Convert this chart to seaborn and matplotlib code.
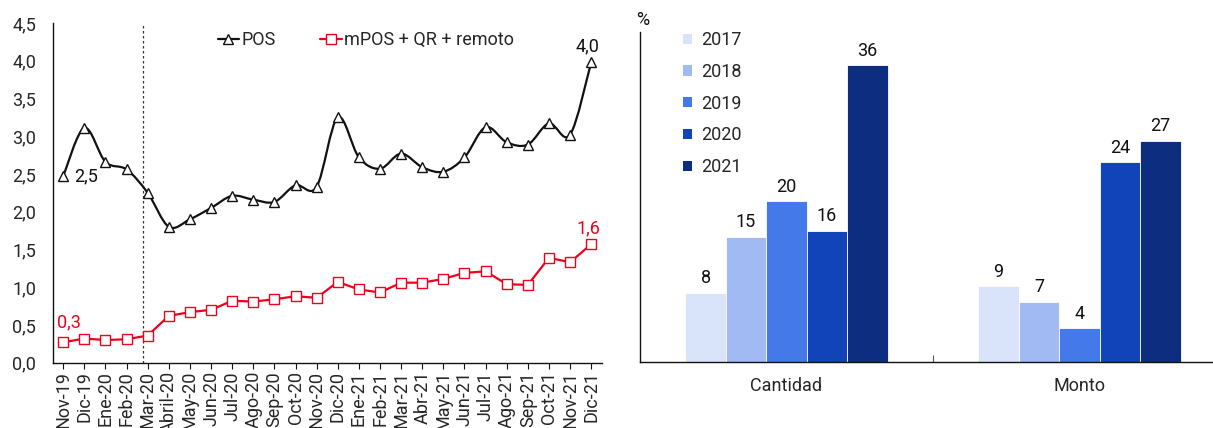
import numpy as np
import pandas as pd
import matplotlib
matplotlib.use("Agg")
import matplotlib.pyplot as plt
from matplotlib.path import Path
from matplotlib.patches import PathPatch
from matplotlib.ticker import FixedLocator, FuncFormatter
import seaborn as sns

# --- data (left panel) ---
months = ["Nov-19", "Dic-19", "Ene-20", "Feb-20", "Mar-20", "Abril-20", "May-20", "Jun-20",
          "Jul-20", "Ago-20", "Sep-20", "Oct-20", "Nov-20", "Dic-20", "Ene-21", "Feb-21",
          "Mar-21", "Abr-21", "May-21", "Jun-21", "Jul-21", "Ago-21", "Sep-21", "Oct-21",
          "Nov-21", "Dic-21"]
pos = [2.47, 3.11, 2.66, 2.56, 2.25, 1.80, 1.90, 2.05, 2.21, 2.16, 2.13, 2.35, 2.33,
       3.25, 2.72, 2.57, 2.77, 2.59, 2.53, 2.72, 3.12, 2.92, 2.89, 3.17, 3.02, 3.98]
mpos = [0.27, 0.32, 0.30, 0.31, 0.36, 0.62, 0.67, 0.70, 0.82, 0.81, 0.84, 0.88, 0.86,
        1.07, 0.97, 0.93, 1.06, 1.06, 1.11, 1.19, 1.21, 1.04, 1.03, 1.39, 1.33, 1.57]

# --- data (right panel) ---
groups = ["Cantidad", "Monto"]
years = ["2017", "2018", "2019", "2020", "2021"]
cantidad = [8.4, 15.2, 19.5, 15.9, 36.0]
monto = [9.2, 7.3, 4.1, 24.2, 26.8]
year_colors = ["#D9E3F9", "#A2BAF4", "#4479EA", "#1244B9", "#0C2D80"]

RED = "#F0001C"
BLACK = "#111111"
FS = 13

sns.set_theme(style="white")
plt.rcParams["font.family"] = ["Roboto", "DejaVu Sans"]
plt.rcParams["font.size"] = FS


def comma(v, _=None):
    return f"{v:.1f}".replace(".", ",")


def smooth_path(xs, ys):
    # bezier curve through the points, like Excel's "smoothed line"
    pts = np.column_stack([xs, ys]).astype(float)
    verts = [pts[0]]
    codes = [Path.MOVETO]
    n = len(pts)
    for i in range(n - 1):
        p0 = pts[i - 1] if i > 0 else pts[i]
        p1, p2 = pts[i], pts[i + 1]
        p3 = pts[i + 2] if i + 2 < n else p2
        verts += [p1 + (p2 - p0) / 6, p2 - (p3 - p1) / 6, p2]
        codes += [Path.CURVE4] * 3
    return Path(verts, codes)


fig = plt.figure(figsize=(12.13, 4.28), dpi=100)
ax1 = fig.add_axes([0.0434, 0.1526, 0.4527, 0.7936])
ax2 = fig.add_axes([0.5276, 0.154, 0.4724, 0.771])

# ---------- left: lines ----------
df = pd.DataFrame({"x": np.arange(len(months)), "month": months, "POS": pos, "mPOS": mpos})

ax1.add_patch(PathPatch(smooth_path(df["x"], df["POS"]), facecolor="none",
                        edgecolor=BLACK, lw=1.6, zorder=3))
sns.lineplot(data=df, x="x", y="POS", ax=ax1, linestyle="", marker="^", markersize=7.5,
             markerfacecolor="white", markeredgecolor=BLACK, markeredgewidth=1, zorder=4)
sns.lineplot(data=df, x="x", y="mPOS", ax=ax1, color=RED, lw=1.6, marker="s", markersize=7,
             markerfacecolor="white", markeredgecolor=RED, markeredgewidth=1, zorder=4)

ax1.axvline(3.8, color="#333333", lw=0.9, ls=(0, (2, 2)), zorder=2)

ax1.set_xlim(-0.5, len(months) - 0.5)
ax1.set_ylim(0, 4.5)
ax1.yaxis.set_major_locator(FixedLocator(np.arange(0, 4.51, 0.5)))
ax1.yaxis.set_major_formatter(FuncFormatter(comma))
ax1.set_xticks(df["x"])
ax1.set_xticklabels(months, rotation=90)
ax1.set_xlabel("")
ax1.set_ylabel("")
ax1.tick_params(axis="x", bottom=True, length=4, width=0.8, color=BLACK, pad=2, labelsize=FS)
ax1.tick_params(axis="y", left=False, pad=6, labelsize=FS)
for side in ["top", "right"]:
    ax1.spines[side].set_visible(False)
for side in ["left", "bottom"]:
    ax1.spines[side].set_color(BLACK)
    ax1.spines[side].set_linewidth(1)

h_pos = plt.Line2D([], [], color=BLACK, lw=1.6, marker="^", markersize=7,
                   markerfacecolor="white", markeredgecolor=BLACK)
h_mpos = plt.Line2D([], [], color=RED, lw=1.6, marker="s", markersize=7,
                    markerfacecolor="white", markeredgecolor=RED)
ax1.legend([h_pos, h_mpos], ["POS", "mPOS + QR + remoto"], ncol=2, frameon=False,
           loc="center", bbox_to_anchor=(0.57, 0.95), handlelength=1.2, handletextpad=0.1,
           columnspacing=2.5, fontsize=FS)

ax1.annotate(comma(pos[0]), (0, pos[0]), xytext=(8, 0), textcoords="offset points",
             ha="left", va="center", color=BLACK, fontsize=FS)
ax1.annotate(comma(mpos[0]), (0, mpos[0]), xytext=(4, 8), textcoords="offset points",
             ha="center", va="bottom", color=RED, fontsize=FS)
ax1.annotate(comma(pos[-1]), (len(pos) - 1, pos[-1]), xytext=(-3, 5), textcoords="offset points",
             ha="center", va="bottom", color=BLACK, fontsize=FS)
ax1.annotate(comma(mpos[-1]), (len(mpos) - 1, mpos[-1]), xytext=(-2, 5), textcoords="offset points",
             ha="center", va="bottom", color=RED, fontsize=FS)

# ---------- right: bars ----------
bars = pd.DataFrame({
    "grupo": [g for g in groups for _ in years],
    "anio": years * len(groups),
    "valor": cantidad + monto,
})
sns.barplot(data=bars, x="grupo", y="valor", hue="anio", hue_order=years, order=groups,
            palette=year_colors, width=0.69, ax=ax2, edgecolor="white", linewidth=0.6,
            saturation=1)

for cont in ax2.containers:
    ax2.bar_label(cont, labels=[f"{v:.0f}" for v in cont.datavalues], padding=4,
                  fontsize=FS, color=BLACK)

ax2.set_xlim(-0.5, -0.5 + 573 / 293)
ax2.set_ylim(0, 40)
ax2.set_yticks([])
ax2.set_xlabel("")
ax2.set_ylabel("")
ax2.tick_params(axis="x", which="major", length=0, pad=11, labelsize=FS)
ax2.set_xticks([0.5], minor=True)
ax2.tick_params(axis="x", which="minor", bottom=True, direction="in", length=5,
                width=0.8, color="#555555")
for side in ["top", "right"]:
    ax2.spines[side].set_visible(False)
for side in ["left", "bottom"]:
    ax2.spines[side].set_color(BLACK)
    ax2.spines[side].set_linewidth(1)

leg = ax2.legend(title=None, frameon=False, loc="upper left", bbox_to_anchor=(0.047, 1.052),
                 handlelength=0.5, handleheight=0.5, handletextpad=0.5, labelspacing=0.76,
                 fontsize=FS)
for h in leg.legend_handles:
    h.set_edgecolor("none")

fig.text(643 / 1213, 1 - 20 / 428, "%", ha="center", va="center", fontsize=FS, color=BLACK)

fig.savefig("out.png", dpi=100)
